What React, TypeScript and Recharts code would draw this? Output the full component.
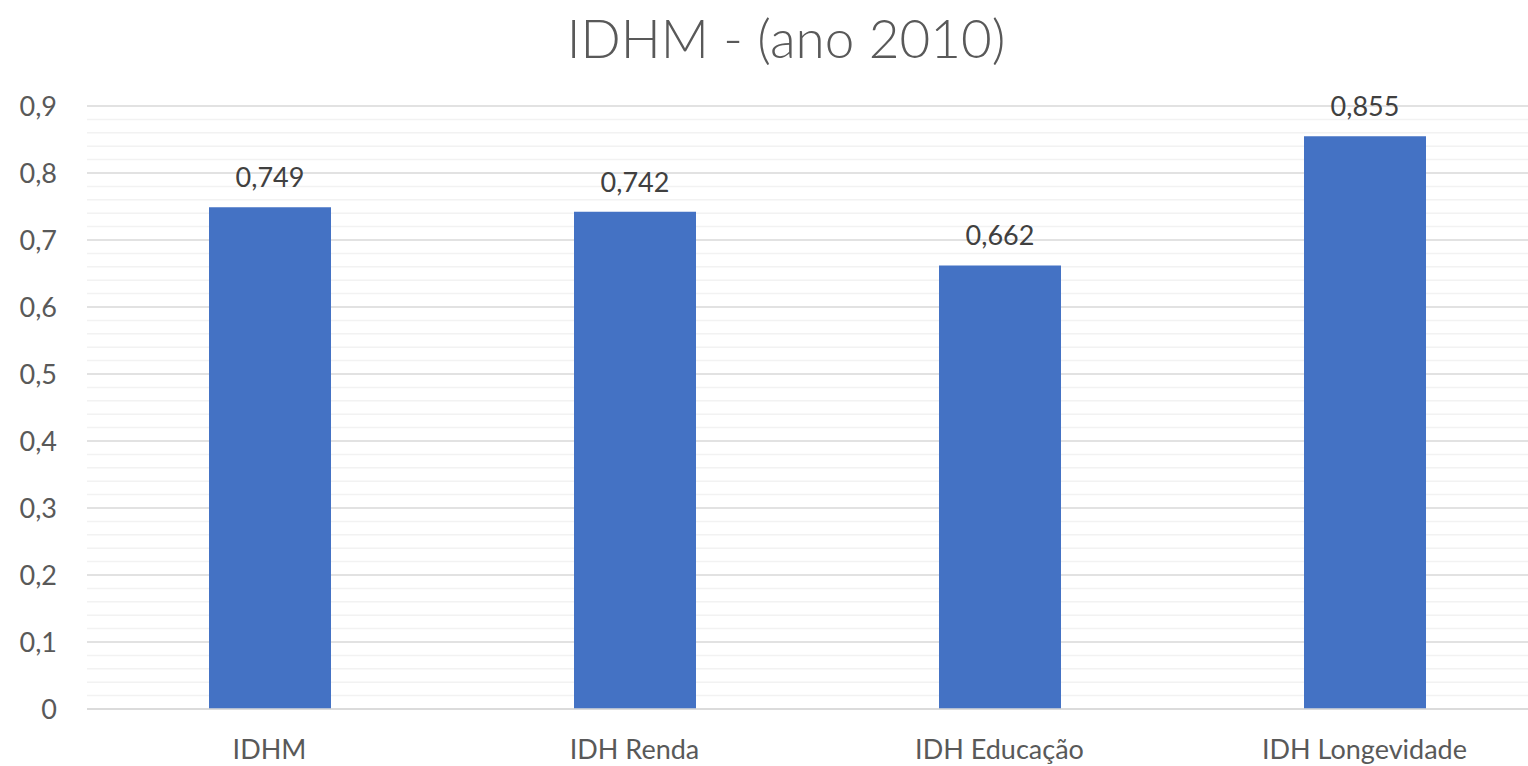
import { BarChart, Bar, XAxis, YAxis, CartesianGrid, LabelList } from "recharts";

const categories = ["IDHM", "IDH Renda", "IDH Educação", "IDH Longevidade"];
const values = [0.749, 0.742, 0.662, 0.855];
// one tick every 0,02 -> four minor lines between each labelled value
const gridTicks = [
  0, 0.02, 0.04, 0.06, 0.08, 0.1, 0.12, 0.14, 0.16, 0.18, 0.2, 0.22, 0.24, 0.26, 0.28,
  0.3, 0.32, 0.34, 0.36, 0.38, 0.4, 0.42, 0.44, 0.46, 0.48, 0.5, 0.52, 0.54, 0.56, 0.58,
  0.6, 0.62, 0.64, 0.66, 0.68, 0.7, 0.72, 0.74, 0.76, 0.78, 0.8, 0.82, 0.84, 0.86, 0.88, 0.9,
];

const data = categories.map((name, i) => ({ name, value: values[i] }));

const FONT = "Lato, 'Liberation Sans', sans-serif";
const comma = (v: number) => String(v).replace(".", ",");
const isMajor = (v: number) => Math.abs(v * 10 - Math.round(v * 10)) < 1e-6;

const gridLine = (props: any) => {
  const { x1, x2, y1, y2, index } = props;
  const major = isMajor(gridTicks[index] ?? 0);
  return (
    <line
      key={`g-${index}`}
      x1={x1}
      x2={x2}
      y1={y1}
      y2={y2}
      stroke={major ? "#d9d9d9" : "#f2f2f2"}
      strokeWidth={1.5}
    />
  );
};

export default function App() {
  return (
    <div
      style={{
        position: "fixed",
        left: 0,
        top: 0,
        width: 1528,
        height: 766,
        overflow: "hidden",
        background: "#fff",
        fontFamily: FONT,
      }}
    >
      <div
        style={{
          position: "absolute",
          left: 786,
          top: 3,
          transform: "translateX(-50%)",
          fontSize: 53,
          fontWeight: 300,
          color: "#595959",
          whiteSpace: "nowrap",
          lineHeight: "70px",
        }}
      >
        IDHM - (ano 2010)
      </div>
      <BarChart
        width={1547}
        height={766}
        data={data}
        margin={{ top: 106, right: 0, left: 0, bottom: 0 }}
      >
        <CartesianGrid vertical={false} horizontal={gridLine} />
        <XAxis
          dataKey="name"
          height={57}
          tickLine={false}
          axisLine={{ stroke: "#d9d9d9", strokeWidth: 1.5 }}
          tickSize={0}
          tickMargin={31}
          tick={{ fontSize: 27, fill: "#595959", fontFamily: FONT }}
        />
        <YAxis
          width={87}
          domain={[0, 0.9]}
          ticks={gridTicks}
          interval={0}
          tickFormatter={(v: number) => (isMajor(v) ? comma(Math.round(v * 10) / 10) : "")}
          tickLine={false}
          axisLine={false}
          tickSize={0}
          tickMargin={30}
          tick={{ fontSize: 27, fill: "#595959", fontFamily: FONT }}
        />
        <Bar dataKey="value" fill="#4472C4" barSize={122} isAnimationActive={false}>
          <LabelList
            dataKey="value"
            position="top"
            offset={20}
            formatter={(v: any) => comma(v)}
            style={{ fontSize: 27, fill: "#404040", fontFamily: FONT }}
          />
        </Bar>
      </BarChart>
    </div>
  );
}
